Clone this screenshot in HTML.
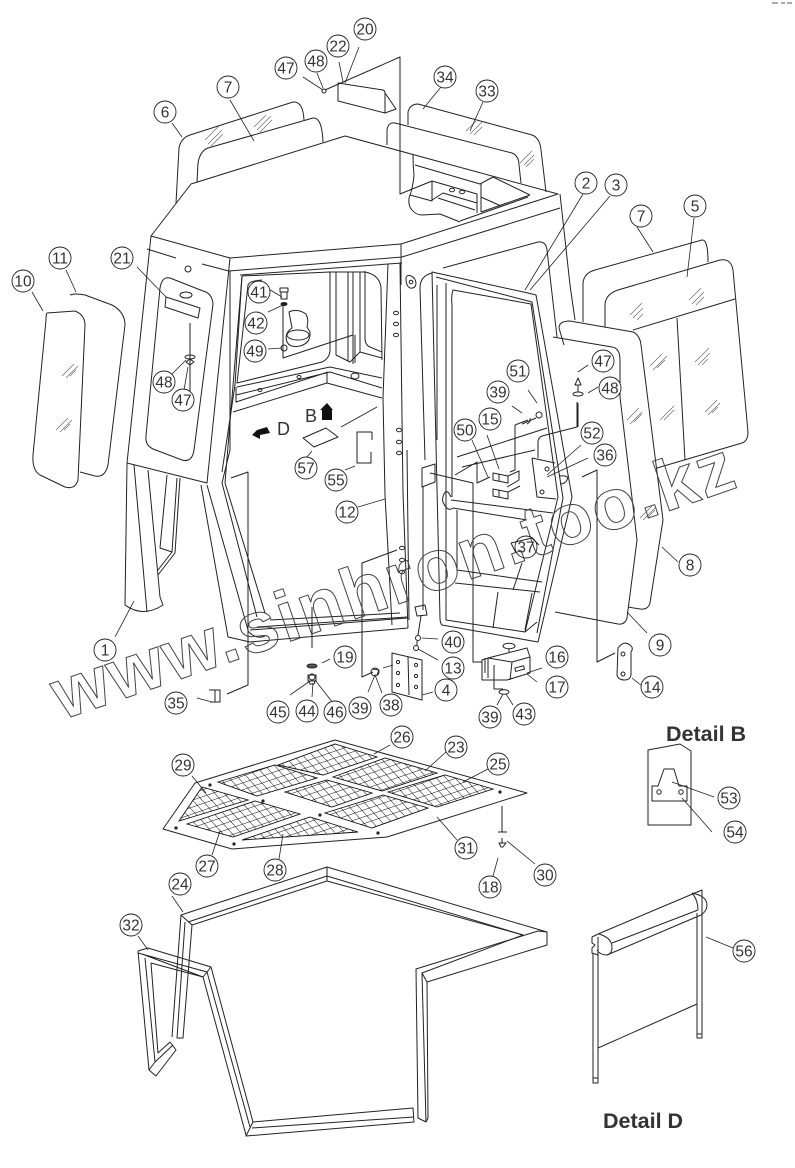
<!DOCTYPE html>
<html><head><meta charset="utf-8"><style>
html,body{margin:0;padding:0;background:#fff}
svg{display:block}
.l{fill:none;stroke:#222;stroke-width:1;stroke-linejoin:round}
.t{stroke:#222;stroke-width:.8;fill:none}
.w{fill:#fff;stroke:#222;stroke-width:1;stroke-linejoin:round}
.h{stroke:#666;stroke-width:.7;fill:none}
.n circle{fill:#fff;stroke:#222;stroke-width:.9}
.n text{font:15.5px "Liberation Sans",sans-serif;fill:#333;text-anchor:middle}
.m{fill:url(#m1);stroke:#111;stroke-width:.9}
.m2{fill:url(#m2);stroke:none}
.b{font:bold 21.5px "Liberation Sans",sans-serif;fill:#333}
</style></head><body>
<svg width="795" height="1168" viewBox="0 0 795 1168" xmlns="http://www.w3.org/2000/svg">
<defs>
<pattern id="m1" width="6.5" height="6.5" patternUnits="userSpaceOnUse" patternTransform="rotate(-19)"><path d="M0,0H6.5" stroke="#111" stroke-width="1"/></pattern>
<pattern id="m2" width="7" height="7" patternUnits="userSpaceOnUse" patternTransform="rotate(48)"><path d="M0,0H7" stroke="#111" stroke-width="1"/></pattern>
</defs>
<rect width="795" height="1168" fill="#fff"/>
<path d="M772,3h6M781,3h4M787,3h5" stroke="#777" stroke-width="1.2"/>

<g class="l">
<!-- rear glass 6/7 -->
<path d="M176,203L179,148Q181,138 190,135L293,102Q303,101 304,120"/>
<path d="M197,182L198,163Q200,151 208,148L313,118Q322,117 323,142"/>
<!-- rear glass 33/34 -->
<path d="M408,125V112Q410,104 418,104L532,135Q540,138 541,150L546,192"/>
<path d="M387,145V130Q388,122 395,123L512,153Q519,156 519,165L521,183"/>
<!-- plate 20/22 -->
<path d="M325,90L400,57V194L432,181"/>
<path d="M338,83V101L385,113V93Q385,91 383,90Z"/>
<path d="M385,93L396,109L385,113"/>
<circle cx="324" cy="91" r="2"/>
<!-- roof -->
<path d="M151,236L191,184L345,136L558,194L401,244L230,258Z"/>
<!-- rear interior details -->
<path d="M413,155Q413,165 414,175Q413,188 409,198Q408,206 412,210Q416,215 422,215L440,214L460,222"/>
<path d="M415,165L480,184L493,177M432,181L477,194V213M432,181V201L410,195M432,200L443,193L477,203M438,198L475,210"/>
<path d="M481,184V212M481,197L501,206M493,177L530,195M481,212L530,195"/>
<ellipse cx="452" cy="190" rx="2.5" ry="1.8"/><ellipse cx="462" cy="192" rx="2.5" ry="1.8"/>
<path d="M460,221L528,197"/>
<!-- under roof -->
<path d="M229,271L402,257L560,208"/>
<path d="M240,275L402,263"/>
<path d="M401,244V285"/>
<path d="M147,249L176,258M202,264L229,271"/>
<circle cx="188" cy="269" r="3"/>
<!-- right roof pillar -->
<path d="M560,194L570,285L575,320"/>
<!-- left frame -->
<path d="M151,236L127,463L207,483L230,258"/>
<path d="M170,278L203,291Q212,293 213,304L194,450Q192,463 182,460L153,449Q145,445 146,436L160,288Q162,276 170,278Z"/>
<path d="M166,297L200,308L198,318L165,307Z"/>
<ellipse cx="186" cy="295" rx="6" ry="3"/>
<path d="M190,323V395"/>
<ellipse cx="190" cy="357" rx="5" ry="2"/><path d="M186,362l4,-3l4,3l-4,3z"/>
<!-- pillars 1 -->
<path d="M127,463L125,605Q143,618 163,605L160,597L148,470M134,465L147,612"/>
<path d="M167,475L160,548L172,552L177,478M180,478L175,553L158,575M158,570L172,552L160,548"/>
<!-- lower front post -->
<path d="M201,485L228,637L250,642L408,628M207,485L248,630M222,483L257,617M225,483L265,613"/>
<path d="M222,483L230,450L230,271M225,483L242,276"/>
<path d="M250,630L408,618M257,627L407,617M270,620L400,613"/>
<path d="M248,631Q256,640 265,636"/>
<!-- interior -->
<path d="M242,276L330,272H365Q380,275 381,288L382,360"/>
<path d="M262,280Q249,281 248,285L237,383L322,362Q330,358 330,350V272"/>
<path d="M242,276L235,385L222,472"/>
<path d="M336,272V355L350,362L360,352V272M348,272V361M353,272V358M365,271V338Q365,345 370,347L382,352M360,352L382,358"/>
<path d="M237,387L330,367L382,378M236,395L330,372L382,388M233,412L327,383L382,398M236,387V402L328,372M327,373V383"/>
<ellipse cx="260" cy="390" rx="2" ry="1.5"/><ellipse cx="299" cy="377" rx="2" ry="1.5"/><ellipse cx="355" cy="376" rx="4" ry="3"/>
<!-- bolt, plate, cylinder -->
<path d="M283,305V358L353,335V364M355,335V363"/>
<path d="M280,288h8v4h-8zM281,292h6v7h-6z"/>
<ellipse cx="284" cy="304" rx="3" ry="1.5" fill="#222"/>
<circle cx="284" cy="348" r="3"/>
<path d="M289,312Q297,308 306,314Q309,320 307,327L310,332Q311,343 300,346Q290,348 287,342Q284,333 292,328Z"/>
<ellipse cx="298" cy="335" rx="11" ry="5"/>
<!-- 55/57 -->
<path d="M303,438L326,428L338,437L314,447Z"/>
<path d="M372,432H357V463H371V452M372,432V440"/>
<path d="M341,427L377,407"/>
<!-- door pillar -->
<path d="M388,264L383,398L385,495L388,550L392,625M400,263L403,493L408,628M407,450L409,620"/>
<path d="M406,279Q406,274 411,276Q416,278 416,284Q415,289 410,288Q406,286 406,279Z"/><circle cx="411" cy="282" r="1.8"/>
<ellipse cx="396" cy="313" rx="2.5" ry="1.8"/><ellipse cx="396" cy="324" rx="2.5" ry="1.8"/><ellipse cx="396" cy="335" rx="2.5" ry="1.8"/>
<ellipse cx="399" cy="430" rx="2.5" ry="1.8"/><ellipse cx="399" cy="442" rx="2.5" ry="1.8"/><ellipse cx="399" cy="453" rx="2.5" ry="1.8"/>
<ellipse cx="402" cy="548" rx="2.5" ry="1.8"/><ellipse cx="402" cy="560" rx="2.5" ry="1.8"/><ellipse cx="402" cy="572" rx="2.5" ry="1.8"/>
<!-- door back -->
<path d="M420,288Q420,276 432,273M420,288L425,460M443,268L538,242Q546,241 547,250L557,337"/>
<!-- door frame -->
<path d="M432,272L528,293L536,295L572,497L538,642L442,625Q440,623 440,618Z"/>
<path d="M436,277L532,302L563,498L537,633"/>
<path d="M446,283V620L525,632L558,497L531,304L453,290Q451,296 452,305V497"/>
<path d="M437,285V440M525,632L537,622"/>
<!-- door lower interior -->
<path d="M457,510V570L542,582M455,583L540,592M498,592L493,628M532,593L525,630M513,590L522,563"/>
<path d="M451,500L553,513M453,508L527,520M451,497Q447,488 444,494Q441,500 444,504Q448,512 453,508"/>
<path d="M457,457L547,428M462,467L535,450M455,475L477,462V483L490,477"/>
<path d="M422,468L435,464V482L422,487ZM430,473L473,483V662L482,662"/>
<path d="M423,487V610"/>
<path d="M515,425V470L510,472M515,425L528,420"/>
<path d="M538,458V442Q538,438 542,436L577,427V402"/>
<path d="M532,458L555,463M532,458L537,497L556,499"/>
<circle cx="547" cy="469" r="2"/><circle cx="542" cy="492" r="2"/>
<path d="M559,476Q570,475 567,480Q565,484 560,484"/>
<path d="M493,473l15,3v7l-15,-3zM499,474v7M508,476l11,-5v9l-12,7M493,489l15,3v7l-15,-3zM499,490v7M508,492l12,-6"/>
<circle cx="539" cy="415" r="3"/><path d="M527,424Q531,422 530,418M522,424L536,418"/>
<path d="M582,477L597,470V662L615,653"/>
<!-- 37 plate -->
<path d="M511,543L532,538L539,545M511,543L516,553"/>
<!-- fastener 47/48 -->
<path d="M578,378l-3,7h6zM578,385v7M578,403V427"/>
<ellipse cx="578" cy="394" rx="5" ry="2"/>
<!-- right panels -->
<path d="M583,322V283Q584,273 595,270L702,240Q708,239 708,262"/>
<path d="M605,327V304Q606,294 618,290L720,260Q731,258 733,270L748,432Q748,441 742,443L657,468"/>
<path d="M633,330L735,299M677,318L685,460"/>
<path d="M564,345L559,328Q559,321 570,321L633,332Q640,335 641,345L663,520L650,603Q648,610 640,609L628,607"/>
<path d="M553,337L612,347Q620,348 620,360V397L637,540L627,618Q625,625 618,624L555,612"/>
<!-- 14 -->
<path d="M618,648Q624,640 630,645Q634,648 631,652L631,675Q630,680 625,680Q618,680 617,675Z"/>
<circle cx="623" cy="654" r="2"/><circle cx="623" cy="674" r="2"/>
<!-- 40/13 -->
<path d="M415,607L425,605L427,615L417,616Z M421,616L418,635"/>
<circle cx="418" cy="638" r="2.5"/><circle cx="416" cy="648" r="2.5"/><path d="M417,641V646"/>
<!-- box 16/17 -->
<path d="M488,658L527,648L530,657V673L507,680H482V660L488,658ZM488,658L512,662L530,657M512,662L510,680M488,658V678M485,658V673"/>
<path d="M482,662H473"/>
<path d="M494,665V689H503"/>
<rect x="515" y="667" width="9" height="3.5" transform="rotate(-15 519 668)"/>
<ellipse cx="509" cy="646" rx="6" ry="2.8"/><path d="M509,649V652"/>
<ellipse cx="504" cy="692" rx="5" ry="2.2"/>
<!-- 4 hinge -->
<path d="M392,653L422,660V700L392,692ZM408,657L409,695"/>
<circle cx="398" cy="662" r="1.6"/><circle cx="398" cy="673" r="1.6"/><circle cx="398" cy="685" r="1.6"/><circle cx="416" cy="665" r="1.6"/><circle cx="416" cy="676" r="1.6"/><circle cx="416" cy="687" r="1.6"/>
<!-- 39 washer -->
<path d="M397,550L362,563V677L373,672"/>
<circle cx="375" cy="672" r="4"/><path d="M372,669l7,1l-2,5"/>
<!-- 44-46 -->
<path d="M312,607V648"/>
<ellipse cx="312" cy="666" rx="5" ry="2" fill="#555"/>
<path d="M308,675h8v6h-8z"/><path d="M309,681h6l-1,3h-4z"/><circle cx="312" cy="677" r="3"/>
<!-- 35 -->
<path d="M231,478L248,472V685L227,694"/>
<path d="M209,690H220V702H210M215,690V702"/>
<!-- side glass 10/11 -->
<path d="M70,295Q75,293 85,295L112,305Q125,312 125,325L108,465Q105,478 95,476L80,472"/>
<path d="M47,313L75,311Q85,315 85,325L78,480Q75,490 65,487L40,475Q32,470 33,455L46,320Q46,314 47,313Z"/>
</g>
<g class="h">
<path d="M205,140l14,-14M208,144l14,-14M211,146l12,-12M254,127l12,-12M257,130l14,-14M260,132l12,-12"/>
<path d="M466,131l10,-10M470,134l12,-12M474,135l8,-8M520,163l12,-12M524,165l10,-10M526,167l8,-8"/>
<path d="M630,315l12,-12M633,318l10,-10M637,320l6,-6"/>
<path d="M689,300l12,-12M692,304l12,-12M696,305l8,-8"/>
<path d="M695,362l14,-14M698,365l12,-12M702,365l6,-6"/>
<path d="M650,366l12,-12M653,370l14,-14M657,368l8,-8"/>
<path d="M705,412l12,-12M708,415l12,-12M712,413l6,-6"/>
<path d="M660,420l14,-14M664,420l10,-10"/>
<path d="M627,420l12,-12M630,424l12,-12M634,422l8,-8"/>
<path d="M640,518l12,-12M643,520l12,-12M647,518l8,-8"/>
<path d="M62,376l12,-12M66,378l12,-12M70,376l6,-6M56,430l12,-12M60,432l12,-12M64,430l6,-6"/>
</g>
<!-- arrows B, D -->
<path d="M327,403L333,410H332V420H322V410H320Z" fill="#111"/>
<path d="M252,435L257,430L267,427L270,433L260,435V439Z" fill="#111"/>
<text x="305" y="422" style="font:18px 'Liberation Sans',sans-serif;fill:#333">B</text>
<text x="277" y="435" style="font:18px 'Liberation Sans',sans-serif;fill:#333">D</text>
<!-- watermark -->
<text transform="translate(62,720) rotate(-19)" textLength="716" lengthAdjust="spacing" style="font:bold 72px 'Liberation Sans',sans-serif;fill:none;stroke:#444;stroke-width:1">www.sinhron.too.kz</text>

<!-- mesh top 23-31 -->
<path class="w" d="M163,829L195,783L335,740L527,793L387,837L232,849Z"/>
<g>
<path class="m" d="M179,821L202,787L248,800Z"/><path class="m2" d="M179,821L202,787L248,800Z"/>
<path class="m" d="M187,824L255,801L300,814L233,837Z"/><path class="m2" d="M187,824L255,801L300,814L233,837Z"/>
<path class="m" d="M242,840L310,817L358,832Z"/><path class="m2" d="M242,840L310,817L358,832Z"/>
<path class="m" d="M218,782L275,765L317,778L257,796Z"/><path class="m2" d="M218,782L275,765L317,778L257,796Z"/>
<path class="m" d="M278,765L335,744L377,757L323,775Z"/><path class="m2" d="M278,765L335,744L377,757L323,775Z"/>
<path class="m" d="M333,777L385,758L437,773L382,791Z"/><path class="m2" d="M333,777L385,758L437,773L382,791Z"/>
<path class="m" d="M285,792L327,780L372,793L332,807Z"/><path class="m2" d="M285,792L327,780L372,793L332,807Z"/>
<path class="m" d="M325,813L383,795L428,808L372,828Z"/><path class="m2" d="M325,813L383,795L428,808L372,828Z"/>
<path class="m" d="M388,792L445,775L493,789L437,807Z"/><path class="m2" d="M388,792L445,775L493,789L437,807Z"/>
</g>
<g fill="#222"><circle cx="176" cy="828" r="1.6"/><circle cx="234" cy="844" r="1.6"/><circle cx="210" cy="785" r="1.6"/><circle cx="263" cy="801" r="1.6"/><circle cx="320" cy="815" r="1.6"/><circle cx="378" cy="833" r="1.6"/><circle cx="500" cy="792" r="1.6"/></g>
<g class="l">
<path d="M502,806V832M498,832h9M499,843h7l-3,4h-2Z"/>
<path d="M502,838V843" />
</g>

<!-- frame 24 -->
<g class="l">
<path d="M181,915L327,867L547,932V945L427,982L428,1118L426,1122L418,1118L416,969L538,931L547,932"/>
<path d="M188,922L327,876L523,935L422,973L427,982"/>
<path d="M192,925L327,881L523,935"/>
<path d="M327,867V881"/>
<path d="M181,915L192,925M422,973L426,1122"/>
<path d="M181,915L172,1037M185,922L177,1038H183L192,925"/>
<path d="M246,1136L414,1122L413,1108L253,1122Z"/>
<path d="M252,1128L414,1117"/>
<!-- 32 -->
<path d="M138,951L148,948L211,967L253,1122M142,954L203,977L246,1135M138,953L207,972L250,1127M203,977L211,967"/>
<path d="M138,951L149,1070L156,1076L176,1050L170,1042L158,1053L151,963M145,958L155,1062L173,1045M149,1070L155,1062M151,963L203,977"/>
</g>

<!-- Detail B -->
<text class="b" x="666" y="741">Detail B</text>
<g class="l">
<path d="M648,750L680,744L691,751V825H648Z"/>
<path d="M652,786H658L664,769H674L679,786H687V801H652Z"/>
<circle cx="659" cy="792" r="2.2"/><circle cx="681" cy="792" r="2.2"/>
</g>
<!-- Detail D -->
<text class="b" x="603" y="1128">Detail D</text>
<g class="l">
<path d="M598,934L702,890V900M692,893Q707,896 707,905Q707,911 701,915L607,955"/>
<path d="M612,943L698,910M692,893Q698,900 698,910"/>
<path d="M599,934Q612,938 612,947Q612,954 607,955Q600,955 597,950"/>
<path d="M592,937V943L595,945L592,948V953L598,955M592,937L598,934"/>
<path d="M593,953V1083H598V937M593,1078H598"/>
<path d="M697,913V1038H702V890M697,1034H702"/>
<path d="M598,1048L697,1004"/>
</g>

<!-- leaders -->
<g class="t">
<path d="M359,47L345,83M339,62L343,82M317,73L323,88M303,77L323,90"/>
<path d="M172,123L182,137M230,100L254,141M441,87L423,109M483,102L470,131"/>
<path d="M583,194L525,290M610,196L530,290"/>
<path d="M637,227L653,252M694,218L687,277"/>
<path d="M137,267L166,297M66,270L76,292M32,292L43,311"/>
<path d="M267,288L282,297M268,312L283,305M268,349L282,348"/>
<path d="M172,374L186,360M184,390L188,367"/>
<path d="M528,390L537,403M512,406L522,413M588,365L578,372M598,387L588,393"/>
<path d="M487,435L499,469M472,440L488,477M581,445L547,475M588,458L547,477"/>
<path d="M312,451L306,458M345,470L355,466M358,507L385,499"/>
<path d="M678,562L662,547M647,633L627,612"/>
<path d="M115,637L134,601"/>
<path d="M322,663L330,659M422,638L438,639M418,649L438,660"/>
<path d="M542,668L527,673M537,682L527,674"/>
<path d="M642,686L632,678M433,692L422,695M383,668L393,665M368,692L375,675L382,693"/>
<path d="M290,695L310,681M312,697L313,683M333,703L315,680M197,698L212,702"/>
<path d="M497,705L503,694M513,705L506,694"/>
<path d="M390,745L374,754M446,752L425,771M488,769L463,782"/>
<path d="M192,776L206,793M212,855L220,831M279,859L283,834M457,840L437,817"/>
<path d="M535,864L507,841M493,876L498,858"/>
<path d="M172,896L183,912M138,936L148,950"/>
<path d="M714,797L672,782M712,832L682,798M733,948L706,937"/>
</g>

<!-- number bubbles -->
<g class="n">
<g transform="translate(365,29)"><circle r="11"/><text y="5.5">20</text></g>
<g transform="translate(338,46)"><circle r="11"/><text y="5.5">22</text></g>
<g transform="translate(316,61)"><circle r="11"/><text y="5.5">48</text></g>
<g transform="translate(286,68)"><circle r="11"/><text y="5.5">47</text></g>
<g transform="translate(165,112)"><circle r="11"/><text y="5.5">6</text></g>
<g transform="translate(228,87)"><circle r="11"/><text y="5.5">7</text></g>
<g transform="translate(445,77)"><circle r="11"/><text y="5.5">34</text></g>
<g transform="translate(487,91)"><circle r="11"/><text y="5.5">33</text></g>
<g transform="translate(586,183)"><circle r="11"/><text y="5.5">2</text></g>
<g transform="translate(616,185)"><circle r="11"/><text y="5.5">3</text></g>
<g transform="translate(641,216)"><circle r="11"/><text y="5.5">7</text></g>
<g transform="translate(695,206)"><circle r="11"/><text y="5.5">5</text></g>
<g transform="translate(122,258)"><circle r="11"/><text y="5.5">21</text></g>
<g transform="translate(60,258)"><circle r="11"/><text y="5.5">11</text></g>
<g transform="translate(23,281)"><circle r="11"/><text y="5.5">10</text></g>
<g transform="translate(259,292)"><circle r="11"/><text y="5.5">41</text></g>
<g transform="translate(256,323)"><circle r="11"/><text y="5.5">42</text></g>
<g transform="translate(255,351)"><circle r="11"/><text y="5.5">49</text></g>
<g transform="translate(164,382)"><circle r="11"/><text y="5.5">48</text></g>
<g transform="translate(183,400)"><circle r="11"/><text y="5.5">47</text></g>
<g transform="translate(518,371)"><circle r="11"/><text y="5.5">51</text></g>
<g transform="translate(603,361)"><circle r="11"/><text y="5.5">47</text></g>
<g transform="translate(610,388)"><circle r="11"/><text y="5.5">48</text></g>
<g transform="translate(498,392)"><circle r="11"/><text y="5.5">39</text></g>
<g transform="translate(490,419)"><circle r="11"/><text y="5.5">15</text></g>
<g transform="translate(465,430)"><circle r="11"/><text y="5.5">50</text></g>
<g transform="translate(592,433)"><circle r="11"/><text y="5.5">52</text></g>
<g transform="translate(605,455)"><circle r="11"/><text y="5.5">36</text></g>
<g transform="translate(306,468)"><circle r="11"/><text y="5.5">57</text></g>
<g transform="translate(336,480)"><circle r="11"/><text y="5.5">55</text></g>
<g transform="translate(347,512)"><circle r="11"/><text y="5.5">12</text></g>
<g transform="translate(526,547)"><circle r="11" style="fill:none"/><text y="5.5">37</text></g>
<g transform="translate(690,565)"><circle r="11"/><text y="5.5">8</text></g>
<g transform="translate(660,645)"><circle r="11"/><text y="5.5">9</text></g>
<g transform="translate(105,650)"><circle r="11"/><text y="5.5">1</text></g>
<g transform="translate(345,657)"><circle r="11"/><text y="5.5">19</text></g>
<g transform="translate(453,642)"><circle r="11"/><text y="5.5">40</text></g>
<g transform="translate(453,668)"><circle r="11"/><text y="5.5">13</text></g>
<g transform="translate(557,657)"><circle r="11"/><text y="5.5">16</text></g>
<g transform="translate(557,687)"><circle r="11"/><text y="5.5">17</text></g>
<g transform="translate(652,687)"><circle r="11"/><text y="5.5">14</text></g>
<g transform="translate(446,690)"><circle r="11"/><text y="5.5">4</text></g>
<g transform="translate(391,705)"><circle r="11"/><text y="5.5">38</text></g>
<g transform="translate(360,708)"><circle r="11"/><text y="5.5">39</text></g>
<g transform="translate(335,712)"><circle r="11"/><text y="5.5">46</text></g>
<g transform="translate(307,711)"><circle r="11"/><text y="5.5">44</text></g>
<g transform="translate(278,712)"><circle r="11"/><text y="5.5">45</text></g>
<g transform="translate(176,703)"><circle r="11"/><text y="5.5">35</text></g>
<g transform="translate(490,717)"><circle r="11"/><text y="5.5">39</text></g>
<g transform="translate(524,714)"><circle r="11"/><text y="5.5">43</text></g>
<g transform="translate(402,737)"><circle r="11"/><text y="5.5">26</text></g>
<g transform="translate(456,747)"><circle r="11"/><text y="5.5">23</text></g>
<g transform="translate(498,764)"><circle r="11"/><text y="5.5">25</text></g>
<g transform="translate(183,765)"><circle r="11"/><text y="5.5">29</text></g>
<g transform="translate(466,848)"><circle r="11"/><text y="5.5">31</text></g>
<g transform="translate(545,875)"><circle r="11"/><text y="5.5">30</text></g>
<g transform="translate(490,887)"><circle r="11"/><text y="5.5">18</text></g>
<g transform="translate(207,866)"><circle r="11"/><text y="5.5">27</text></g>
<g transform="translate(275,870)"><circle r="11"/><text y="5.5">28</text></g>
<g transform="translate(180,884)"><circle r="11"/><text y="5.5">24</text></g>
<g transform="translate(131,925)"><circle r="11"/><text y="5.5">32</text></g>
<g transform="translate(729,798)"><circle r="11"/><text y="5.5">53</text></g>
<g transform="translate(735,832)"><circle r="11"/><text y="5.5">54</text></g>
<g transform="translate(744,951)"><circle r="11"/><text y="5.5">56</text></g>
</g>
</svg>
</body></html>
